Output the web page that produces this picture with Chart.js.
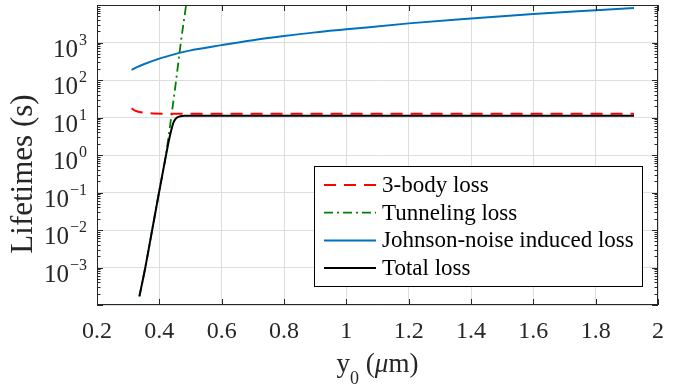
<!DOCTYPE html>
<html>
<head>
<meta charset="utf-8">
<script src="https://cdn.jsdelivr.net/npm/chart.js@4.4.0/dist/chart.umd.min.js"></script>
<style>
  body { margin: 0; background: #fff; }
</style>
</head>
<body>
<canvas id="lifetimes" width="677" height="388"></canvas>
<script>
// Data (x in um, lifetimes in s)
const threeBodyX = [0.311, 0.32, 0.33, 0.345, 0.36, 0.38, 0.42, 0.5, 0.8, 1.2, 1.6, 1.923];
const threeBodyY = [17.6, 15.6, 14.5, 13.6, 13.1, 12.8, 12.65, 12.6, 12.6, 12.6, 12.6, 12.6];

const tunnelX = [0.336, 0.355, 0.377, 0.399, 0.421, 0.438, 0.454, 0.469, 0.486];
const tunnelY = [1.7e-4, 1e-3, 1e-2, 1e-1, 1, 10, 100, 1000, 10000];

const johnsonX = [0.311, 0.33, 0.35, 0.4, 0.45, 0.5, 0.6, 0.7, 0.8, 0.9, 1.0, 1.2, 1.4, 1.6, 1.8, 1.923];
const johnsonY = [186, 224, 263, 372, 490, 617, 851, 1148, 1480, 1862, 2240, 3236, 4365, 5754, 7244, 8318];

const totalX = [0.336, 0.355, 0.377, 0.399, 0.421, 0.43, 0.438, 0.445, 0.452, 0.46, 0.468, 0.48, 0.5, 0.6, 1.0, 1.5, 1.923];
const totalY = [1.7e-4, 1e-3, 1e-2, 1e-1, 0.95, 2.3, 4.5, 7.2, 9.2, 10.3, 10.8, 11.1, 11.15, 11.2, 11.2, 11.2, 11.2];

const seriesLabels = ["3-body loss", "Tunneling loss", "Johnson-noise induced loss", "Total loss"];
const xTickValues = [0.2, 0.4, 0.6, 0.8, 1, 1.2, 1.4, 1.6, 1.8, 2];
const yExponents = [-3, -2, -1, 0, 1, 2, 3];

const serif = '"Liberation Serif", "Times New Roman", serif';
const axisColor = '#262626';

function toPoints(xs, ys) {
    return xs.map((x, i) => ({ x: x, y: ys[i] }));
}

// Draws the MATLAB style box, inward ticks, axis texts and the legend
const axesDecor = {
    id: 'axesDecor',
    afterDraw(chart) {
        const ctx = chart.ctx;
        const a = chart.chartArea;
        const xs = chart.scales.x;
        const ys = chart.scales.y;
        ctx.save();
        ctx.strokeStyle = axisColor;
        ctx.lineWidth = 1;

        // inward tick marks
        ctx.beginPath();
        xTickValues.forEach(v => {
            const px = Math.round(xs.getPixelForValue(v)) + 0.5;
            ctx.moveTo(px, a.bottom); ctx.lineTo(px, a.bottom - 6);
            ctx.moveTo(px, a.top); ctx.lineTo(px, a.top + 6);
        });
        for (let k = -4; k <= 4; k++) {
            for (let m = 1; m < 10; m++) {
                if (k === 4 && m > 1) break;
                const py = Math.round(ys.getPixelForValue(m * Math.pow(10, k))) + 0.5;
                const len = m === 1 ? 6 : 3.5;
                ctx.moveTo(a.left, py); ctx.lineTo(a.left + len, py);
                ctx.moveTo(a.right, py); ctx.lineTo(a.right - len, py);
            }
        }
        ctx.stroke();

        // box
        ctx.strokeRect(Math.round(a.left) + 0.5, Math.round(a.top) + 0.5,
            Math.round(a.right - a.left) - 1, Math.round(a.bottom - a.top) - 1);

        // y tick labels 10^n
        ctx.fillStyle = axisColor;
        ctx.textAlign = 'right';
        ctx.textBaseline = 'alphabetic';
        yExponents.forEach(e => {
            const py = ys.getPixelForValue(Math.pow(10, e));
            const sup = String(e).replace('-', '\u2212');
            const right = a.left - 10;
            ctx.font = '16px ' + serif;
            const supW = ctx.measureText(sup).width;
            ctx.fillText(sup, right, py + 2);
            ctx.font = '25px ' + serif;
            ctx.fillText('10', right - supW - 1, py + 14);
        });

        // y axis title
        ctx.save();
        ctx.translate(24, 174);
        ctx.rotate(-Math.PI / 2);
        ctx.textAlign = 'center';
        ctx.textBaseline = 'middle';
        ctx.font = '31px ' + serif;
        ctx.fillText('Lifetimes (s)', 0, 0);
        ctx.restore();

        // x axis title: y_0 (mu m)
        const parts = [
            { t: 'y', f: '27px ' + serif, dy: 0 },
            { t: '0', f: '18px ' + serif, dy: 12 },
            { t: ' (', f: '27px ' + serif, dy: 0 },
            { t: '\u03bc', f: 'italic 27px ' + serif, dy: 0 },
            { t: 'm)', f: '27px ' + serif, dy: 0 }
        ];
        let total = 0;
        parts.forEach(p => { ctx.font = p.f; p.w = ctx.measureText(p.t).width; total += p.w; });
        let tx = (a.left + a.right) / 2 - total / 2;
        ctx.textAlign = 'left';
        parts.forEach(p => {
            ctx.font = p.f;
            ctx.fillText(p.t, tx, 372 + p.dy);
            tx += p.w;
        });

        // legend
        const lx = 314, ly = 166, lw = 328, lh = 120;
        ctx.fillStyle = '#fff';
        ctx.fillRect(lx, ly, lw, lh);
        ctx.strokeStyle = '#000';
        ctx.strokeRect(lx + 0.5, ly + 0.5, lw, lh);
        ctx.font = '23px ' + serif;
        ctx.textBaseline = 'middle';
        chart.data.datasets.forEach((ds, i) => {
            const rowY = 185 + i * 27.7;
            ctx.beginPath();
            ctx.strokeStyle = ds.borderColor;
            ctx.lineWidth = ds.borderWidth;
            ctx.setLineDash(ds.borderDash || []);
            ctx.moveTo(324, rowY);
            ctx.lineTo(376, rowY);
            ctx.stroke();
            ctx.setLineDash([]);
            ctx.fillStyle = '#000';
            ctx.fillText(ds.label, 382, rowY + 1);
        });
        ctx.restore();
    }
};

new Chart(document.getElementById('lifetimes').getContext('2d'), {
    type: 'line',
    data: {
        datasets: [
            {
                label: seriesLabels[0],
                data: toPoints(threeBodyX, threeBodyY),
                borderColor: '#ff0000',
                borderWidth: 2,
                borderDash: [12, 8],
                order: 1
            },
            {
                label: seriesLabels[1],
                data: toPoints(tunnelX, tunnelY),
                borderColor: '#008000',
                borderWidth: 1.8,
                borderDash: [9, 4, 2, 4],
                order: 2
            },
            {
                label: seriesLabels[2],
                data: toPoints(johnsonX, johnsonY),
                borderColor: '#0072bd',
                borderWidth: 2,
                order: 3
            },
            {
                label: seriesLabels[3],
                data: toPoints(totalX, totalY),
                borderColor: '#000000',
                borderWidth: 2,
                order: 0
            }
        ]
    },
    options: {
        responsive: false,
        animation: false,
        layout: { padding: { top: 5, right: 19, left: 0, bottom: 0 } },
        elements: {
            point: { radius: 0 },
            line: { cubicInterpolationMode: 'monotone', fill: false }
        },
        plugins: {
            legend: { display: false },
            tooltip: { enabled: false }
        },
        scales: {
            x: {
                type: 'linear',
                min: 0.2,
                max: 2,
                afterBuildTicks: s => { s.ticks = xTickValues.map(v => ({ value: v })); },
                afterFit: s => { s.height = 83; },
                ticks: {
                    color: axisColor,
                    padding: 12,
                    font: { family: serif, size: 24 },
                    maxRotation: 0,
                    autoSkip: false,
                    callback: v => String(Number(v.toFixed(1)))
                },
                grid: { color: '#dedede', drawTicks: false },
                border: { display: false }
            },
            y: {
                type: 'logarithmic',
                min: 1e-4,
                max: 1e4,
                afterBuildTicks: s => {
                    const t = [];
                    for (let e = -4; e <= 4; e++) t.push({ value: Math.pow(10, e), major: true });
                    s.ticks = t;
                },
                afterFit: s => { s.width = 97; },
                ticks: { display: false },
                grid: { color: '#dedede', drawTicks: false },
                border: { display: false }
            }
        }
    },
    plugins: [axesDecor]
});
</script>
</body>
</html>
